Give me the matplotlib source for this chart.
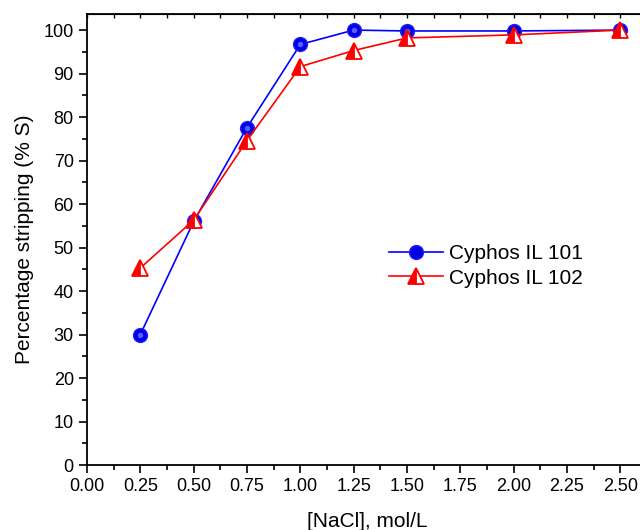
import numpy as np
import matplotlib.pyplot as plt
from matplotlib.ticker import MultipleLocator

plt.rcParams['font.family'] = ['Liberation Sans', 'DejaVu Sans']

# [NaCl] concentration, mol/L
nacl = [0.25, 0.50, 0.75, 1.00, 1.25, 1.50, 2.00, 2.50]
# percentage stripping for both extractants
il101 = [30.0, 56.0, 77.6, 96.7, 100.0, 99.8, 99.8, 100.0]
il102 = [45.3, 56.3, 74.6, 91.6, 95.3, 98.2, 98.9, 100.0]

fig = plt.figure(figsize=(6.4, 5.3), dpi=100)
ax = fig.add_axes([87/640, 65/530, 560/640, 451/530])

ax.plot(nacl, il101, color='blue', lw=1.2, marker='o', ms=10,
        mfc='#0000e0', mec='#2020ff', label='Cyphos IL 101', zorder=3)
# small highlight to mimic the shaded ball
ax.plot(nacl, il101, ls='none', marker='o', ms=4, mfc='#5a5aff', mec='none',
        zorder=4)
ax.plot(nacl, il102, color='red', lw=1.2, marker='^', ms=12,
        fillstyle='left', mfc='red', mfcalt='white', mec='red', mew=1.3,
        label='Cyphos IL 102', zorder=5)

ax.set_xlim(0, 2.625)
ax.set_ylim(0, 103.7)
ax.xaxis.set_major_locator(MultipleLocator(0.25))
ax.xaxis.set_minor_locator(MultipleLocator(0.125))
ax.yaxis.set_major_locator(MultipleLocator(10))
ax.yaxis.set_minor_locator(MultipleLocator(5))
ax.xaxis.set_major_formatter(plt.FormatStrFormatter('%.2f'))
ax.tick_params(which='major', direction='out', length=6, width=1.2,
               labelsize=13)
ax.tick_params(which='minor', direction='out', length=3.5, width=1.2)
for s in ax.spines.values():
    s.set_linewidth(1.3)

top = ax.secondary_xaxis('top')
top.xaxis.set_major_locator(MultipleLocator(0.125))
top.tick_params(direction='in', length=3, width=1.0, labeltop=False)

ax.set_xlabel('[NaCl], mol/L', fontsize=15, labelpad=12)
ax.set_ylabel('Percentage stripping (% S)', fontsize=15, labelpad=7)

ax.legend(handles=ax.get_lines()[0:1] + ax.get_lines()[2:3],
          loc='center left', bbox_to_anchor=(370/640, 1 - 266/530),
          bbox_transform=fig.transFigure, frameon=False, fontsize=15,
          handlelength=2.6, handletextpad=0.3, labelspacing=0.25)

fig.savefig('out.png', dpi=100)
